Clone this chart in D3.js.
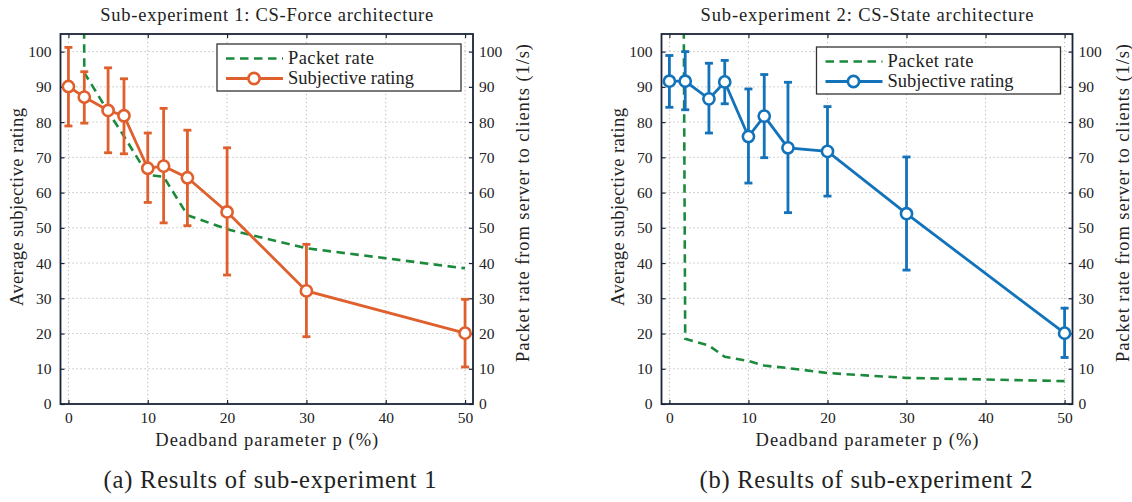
<!DOCTYPE html>
<html>
<head>
<meta charset="utf-8">
<script src="https://cdn.jsdelivr.net/npm/d3@7/dist/d3.min.js"></script>
<style>
  body { margin: 0; background: #fff; }
  svg text { font-family: "Liberation Serif", "Times New Roman", serif; fill: #222; }
</style>
</head>
<body>
<svg id="chart" width="1132" height="502"></svg>
<script>
// Deadband parameter p (%) used in both sub-experiments
const pValues = [0, 2, 5, 7, 10, 12, 15, 20, 30, 50];

// Sub-experiment 1: CS-Force
const ratingForce   = [90.1, 87.1, 83.3, 81.8, 66.9, 67.5, 64.2, 54.5, 32.1, 20.1];
const ratingForceHi = [101.2, 94.3, 95.4, 92.3, 76.9, 83.9, 77.7, 72.7, 45.3, 29.7];
const ratingForceLo = [78.9, 79.7, 71.3, 71.0, 57.2, 51.4, 50.6, 36.6, 19.1, 10.5];
const rateForce     = [1000, 94, 83, 76, 65, 64.5, 53.6, 49.6, 44.2, 38.5];

// Sub-experiment 2: CS-State
const ratingState   = [91.6, 91.6, 86.6, 91.4, 75.9, 81.7, 72.7, 71.7, 54.0, 20.1];
const ratingStateHi = [98.9, 100.0, 96.7, 97.5, 89.4, 93.5, 91.3, 84.4, 70.1, 27.2];
const ratingStateLo = [84.2, 83.5, 76.9, 85.2, 62.7, 69.9, 54.3, 59.0, 38.0, 13.2];
const rateState     = [1000, 18.5, 16.6, 13.4, 12.2, 10.9, 10.2, 8.8, 7.4, 6.5];

// Axis ticks
const xTicks = [0, 10, 20, 30, 40, 50];
const yTicks = [0, 10, 20, 30, 40, 50, 60, 70, 80, 90, 100];

const titles = ["Sub-experiment 1: CS-Force architecture", "Sub-experiment 2: CS-State architecture"];
const captions = ["(a) Results of sub-experiment 1", "(b) Results of sub-experiment 2"];
const legendLabels = ["Packet rate", "Subjective rating"];

const svg = d3.select("#chart").attr("font-family", '"Liberation Serif", serif');
const green = "#1c8a3c";

// fit text to a measured width by adjusting letter spacing
function fit(sel, w) {
    sel.attr("textLength", w).attr("lengthAdjust", "spacing");
}

function drawPanel(id, left, right, opts) {
    const top = 34, bottom = 404;
    const x = d3.scaleLinear().domain([-1, 51]).range([left, right]);
    const y = d3.scaleLinear().domain([0, 105]).range([bottom, top]);
    const y2 = d3.scaleLinear().domain([0, 105]).range([bottom, top]);
    const cx = (left + right) / 2;

    const g = svg.append("g");

    svg.append("clipPath").attr("id", "clip" + id)
        .append("rect")
        .attr("x", left).attr("y", top)
        .attr("width", right - left).attr("height", bottom - top);

    // dotted grid
    g.selectAll(".gx").data(xTicks).enter().append("line")
        .attr("x1", d => x(d)).attr("x2", d => x(d))
        .attr("y1", top).attr("y2", bottom)
        .attr("stroke", "#b5b5b5").attr("stroke-width", 1)
        .attr("stroke-dasharray", "1.2,2.8");
    g.selectAll(".gy").data(yTicks.slice(1)).enter().append("line")
        .attr("x1", left).attr("x2", right)
        .attr("y1", d => y(d)).attr("y2", d => y(d))
        .attr("stroke", "#b5b5b5").attr("stroke-width", 1)
        .attr("stroke-dasharray", "1.2,2.8");

    // axes (ticks inward, labels drawn by the axis generators)
    const fmt = d3.format("d");
    const axB = g.append("g").attr("transform", "translate(0," + bottom + ")")
        .call(d3.axisBottom(x).tickValues(xTicks).tickSize(-4).tickPadding(8).tickFormat(fmt));
    const axT = g.append("g").attr("transform", "translate(0," + top + ")")
        .call(d3.axisTop(x).tickValues(xTicks).tickSize(-4).tickFormat(""));
    const axL = g.append("g").attr("transform", "translate(" + left + ",0)")
        .call(d3.axisLeft(y).tickValues(yTicks).tickSize(-4).tickPadding(9).tickFormat(fmt));
    const axR = g.append("g").attr("transform", "translate(" + right + ",0)")
        .call(d3.axisRight(y2).tickValues(yTicks).tickSize(-4).tickPadding(6).tickFormat(fmt));
    [axB, axT, axL, axR].forEach(a => {
        a.attr("font-family", '"Liberation Serif", serif');
        a.select(".domain").remove();
        a.selectAll(".tick line").attr("stroke", "#1a2438").attr("stroke-width", 1.2);
        a.selectAll(".tick text")
            .style("font-family", '"Liberation Serif", serif')
            .style("font-size", "15.5px").attr("fill", "#222");
    });

    // packet rate (right axis)
    const rateLine = d3.line().x((d, i) => x(pValues[i])).y(d => y2(d));
    g.append("path")
        .datum(opts.rate)
        .attr("clip-path", "url(#clip" + id + ")")
        .attr("fill", "none")
        .attr("stroke", green).attr("stroke-width", 2.6)
        .attr("stroke-dasharray", "8.5,5.5")
        .attr("d", rateLine);

    // subjective rating with error bars
    const ratingLine = d3.line().x((d, i) => x(pValues[i])).y(d => y(d));
    g.append("path")
        .datum(opts.rating)
        .attr("fill", "none")
        .attr("stroke", opts.color).attr("stroke-width", 2.8)
        .attr("d", ratingLine);

    const eb = g.selectAll(".eb").data(pValues).enter().append("g");
    eb.append("line")
        .attr("x1", d => x(d)).attr("x2", d => x(d))
        .attr("y1", (d, i) => y(opts.hi[i])).attr("y2", (d, i) => y(opts.lo[i]))
        .attr("stroke", opts.color).attr("stroke-width", 2.8);
    eb.append("line")
        .attr("x1", d => x(d) - 4).attr("x2", d => x(d) + 4)
        .attr("y1", (d, i) => y(opts.hi[i])).attr("y2", (d, i) => y(opts.hi[i]))
        .attr("stroke", opts.color).attr("stroke-width", 2.8);
    eb.append("line")
        .attr("x1", d => x(d) - 4).attr("x2", d => x(d) + 4)
        .attr("y1", (d, i) => y(opts.lo[i])).attr("y2", (d, i) => y(opts.lo[i]))
        .attr("stroke", opts.color).attr("stroke-width", 2.8);
    eb.append("circle")
        .attr("cx", d => x(d)).attr("cy", (d, i) => y(opts.rating[i]))
        .attr("r", 5.6)
        .attr("fill", "#fff").attr("stroke", opts.color).attr("stroke-width", 2.6);

    // frame
    g.append("rect")
        .attr("x", left).attr("y", top)
        .attr("width", right - left).attr("height", bottom - top)
        .attr("fill", "none").attr("stroke", "#1a2438").attr("stroke-width", 1.8);

    // legend
    const lx = right - 12 - 244, ly = top + 10 + opts.legendShift;
    const lg = g.append("g").attr("transform", "translate(" + lx + "," + ly + ")");
    lg.append("rect").attr("width", 244).attr("height", 47)
        .attr("fill", "#fff").attr("stroke", "#333").attr("stroke-width", 1.3);
    lg.append("line").attr("x1", 9).attr("x2", 66).attr("y1", 14.5).attr("y2", 14.5)
        .attr("stroke", green).attr("stroke-width", 2.6).attr("stroke-dasharray", "8.5,5.5");
    lg.append("line").attr("x1", 9).attr("x2", 66).attr("y1", 34.5).attr("y2", 34.5)
        .attr("stroke", opts.color).attr("stroke-width", 2.8);
    lg.append("circle").attr("cx", 37).attr("cy", 34.5).attr("r", 5.6)
        .attr("fill", "#fff").attr("stroke", opts.color).attr("stroke-width", 2.6);
    lg.selectAll(".lt").data(legendLabels).enter().append("text")
        .attr("x", 71).attr("y", (d, i) => 19.5 + i * 20)
        .style("font-size", "18.5px")
        .text(d => d)
        .each(function(d, i) { fit(d3.select(this), i === 0 ? 86 : 126); });

    // title and axis labels
    svg.append("text").attr("x", cx).attr("y", 21)
        .attr("text-anchor", "middle").style("font-size", "18.5px")
        .text(opts.title).call(fit, 333);
    svg.append("text").attr("x", cx).attr("y", 446)
        .attr("text-anchor", "middle").style("font-size", "18.5px")
        .text("Deadband parameter p (%)").call(fit, 223);
    svg.append("text")
        .attr("transform", "translate(" + (left - 38) + ",207) rotate(-90)")
        .attr("text-anchor", "middle").style("font-size", "18.5px")
        .text("Average subjective rating").call(fit, 198);
    svg.append("text")
        .attr("transform", "translate(" + (right + 56) + ",203) rotate(-90)")
        .attr("text-anchor", "middle").style("font-size", "18.5px")
        .text("Packet rate from server to clients (1/s)").call(fit, 318);

    // caption
    svg.append("text").attr("x", opts.captionX).attr("y", 488)
        .attr("text-anchor", "middle").style("font-size", "24.5px").attr("fill", "#111")
        .text(opts.caption).call(fit, 333);
}

drawPanel("A", 60.5, 473, {
    rating: ratingForce, hi: ratingForceHi, lo: ratingForceLo, rate: rateForce,
    color: "#e0602d", title: titles[0], caption: captions[0], captionX: 270, legendShift: 0
});
drawPanel("B", 661.5, 1072.5, {
    rating: ratingState, hi: ratingStateHi, lo: ratingStateLo, rate: rateState,
    color: "#1272ba", title: titles[1], caption: captions[1], captionX: 866, legendShift: 3
});
</script>
</body>
</html>
